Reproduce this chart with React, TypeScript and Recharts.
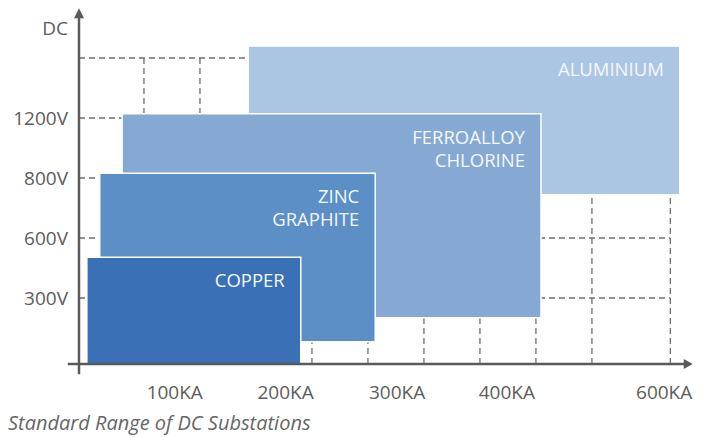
import React from 'react';
import { ComposedChart, XAxis, YAxis, Scatter, ReferenceArea, ReferenceLine } from 'recharts';

// Schematic chart: x in grid-column units, y in grid-row units (one unit per dashed line)
const xGrid = [1, 2, 3, 4, 5, 6, 7, 8, 9, 10.4];
const yGrid = [1, 2, 3, 4, 5];

const xTicks = [1.55, 3.53, 5.52, 7.48, 10.29];
const xTickLabels = ['100KA', '200KA', '300KA', '400KA', '600KA'];
const yTicks = [1, 2, 3, 4, 5.5];
const yTickLabels = ['300V', '600V', '800V', '1200V', 'DC'];

// Ranges, drawn back to front
const rangeNames = [['ALUMINIUM'], ['FERROALLOY', 'CHLORINE'], ['ZINC', 'GRAPHITE'], ['COPPER']];
const rangeXStart = [2.86, 0.61, 0.21, -0.02];
const rangeXEnd = [10.57, 8.09, 5.13, 3.8];
const rangeYBottom = [2.72, 0.67, 0.27, -0.1];
const rangeYTop = [5.2, 4.07, 3.08, 1.68];
const rangeColors = ['#abc6e3', '#85a9d3', '#5b8fc6', '#3a71b6'];

// axis extents (with the small overshoot past the origin)
const axisMin = { x: -0.36, y: -0.27 };
const origin = { x: -0.16, y: -0.1 };
const axisTip = { x: 10.8, y: 5.83 };

const X_DOMAIN: [number, number] = [-0.16, 10.93];
const Y_DOMAIN: [number, number] = [-0.1, 5.85];

const anchors = rangeNames.map((_, i) => ({ x: rangeXEnd[i], y: rangeYTop[i] }));

const AXIS_COLOR = '#5a5a5a';
const GRID_COLOR = '#6e6e6e';
const TEXT_COLOR = '#5c5c5c';
const FONT = '"Open Sans", "Noto Sans", sans-serif';

const ArrowLine = (props: any) => {
  const { x1, y1, x2, y2 } = props;
  const horizontal = Math.abs(y2 - y1) < 1;
  const head = horizontal
    ? `${x2},${y2} ${x2 - 9},${y2 - 5} ${x2 - 9},${y2 + 5}`
    : `${x2},${y2} ${x2 - 5},${y2 + 10} ${x2 + 5},${y2 + 10}`;
  return (
    <g>
      <line x1={x1} y1={y1} x2={horizontal ? x2 - 6 : x2} y2={horizontal ? y2 : y2 + 6} stroke={AXIS_COLOR} strokeWidth={2.5} />
      <polygon points={head} fill={AXIS_COLOR} />
    </g>
  );
};

const rangeLabel = (lines: string[]) => (props: any) => {
  const { x, y, width } = props.viewBox;
  const right = x + width - 16;
  return (
    <text x={right} y={y + 30} textAnchor="end" fill="#f4f7fc" fontSize={18.5} fontFamily={FONT}>
      {lines.map((line, i) => (
        <tspan key={line} x={right} dy={i === 0 ? 0 : 23}>
          {line}
        </tspan>
      ))}
    </text>
  );
};

export default function App() {
  return (
    <div style={{ position: 'absolute', left: 0, top: 0, width: 707, height: 438 }}>
      <ComposedChart width={707} height={438} margin={{ top: 7, right: 7, bottom: 34, left: 0 }}>
        <XAxis
          type="number"
          dataKey="x"
          domain={X_DOMAIN}
          allowDataOverflow
          ticks={xTicks}
          tickFormatter={(v: number) => xTickLabels[xTicks.indexOf(v)] ?? ''}
          axisLine={false}
          tickLine={false}
          tickSize={6}
          tickMargin={16}
          height={40}
          interval={0}
          tick={{ fill: TEXT_COLOR, fontSize: 19, fontFamily: FONT }}
        />
        <YAxis
          type="number"
          dataKey="y"
          domain={Y_DOMAIN}
          allowDataOverflow
          ticks={yTicks}
          tickFormatter={(v: number) => yTickLabels[yTicks.indexOf(v)] ?? ''}
          axisLine={false}
          tickLine={false}
          tickSize={6}
          tickMargin={5}
          width={79}
          interval={0}
          tick={{ fill: TEXT_COLOR, fontSize: 19, fontFamily: FONT }}
        />

        {/* dashed grid, stopping at the last column / row */}
        {xGrid.map((gx) => (
          <ReferenceLine
            key={`vx-${gx}`}
            segment={[{ x: gx, y: origin.y }, { x: gx, y: yGrid[yGrid.length - 1] }]}
            stroke={GRID_COLOR}
            strokeWidth={1.3}
            strokeDasharray="6 4"
            ifOverflow="visible"
            zIndex={50}
          />
        ))}
        {yGrid.map((gy) => (
          <ReferenceLine
            key={`hy-${gy}`}
            segment={[{ x: origin.x, y: gy }, { x: xGrid[xGrid.length - 1], y: gy }]}
            stroke={GRID_COLOR}
            strokeWidth={1.3}
            strokeDasharray="6 4"
            ifOverflow="visible"
            zIndex={50}
          />
        ))}

        {rangeNames.map((lines, i) => (
          <ReferenceArea
            key={lines.join('-')}
            x1={rangeXStart[i]}
            x2={rangeXEnd[i]}
            y1={rangeYBottom[i]}
            y2={rangeYTop[i]}
            fill={rangeColors[i]}
            fillOpacity={1}
            stroke="#ffffff"
            strokeWidth={1.5}
            ifOverflow="visible"
            zIndex={100 + i}
            label={{ content: rangeLabel(lines) }}
          />
        ))}

        {/* axes with arrow heads */}
        <ReferenceLine
          segment={[{ x: axisMin.x, y: origin.y }, { x: axisTip.x, y: origin.y }]}
          ifOverflow="visible"
          shape={ArrowLine}
          zIndex={500}
        />
        <ReferenceLine
          segment={[{ x: origin.x, y: axisMin.y }, { x: origin.x, y: axisTip.y }]}
          ifOverflow="visible"
          shape={ArrowLine}
          zIndex={500}
        />

        <Scatter data={anchors} fill="none" stroke="none" isAnimationActive={false} />
      </ComposedChart>
      <div
        style={{
          position: 'absolute',
          left: 8,
          top: 409,
          fontFamily: FONT,
          fontStyle: 'italic',
          fontSize: 20,
          color: '#666666',
          whiteSpace: 'nowrap',
        }}
      >
        Standard Range of DC Substations
      </div>
    </div>
  );
}
